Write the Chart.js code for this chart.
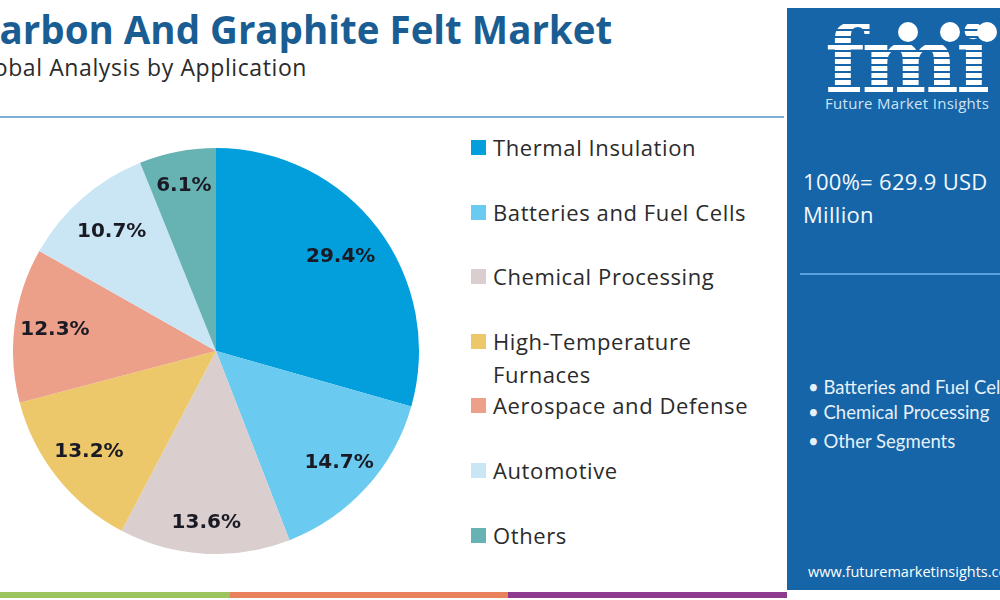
<!DOCTYPE html>
<html>
<head>
<meta charset="utf-8">
<script src="https://cdn.jsdelivr.net/npm/chart.js@4.4.0/dist/chart.umd.min.js"></script>
<style>
  html, body { margin: 0; padding: 0; background: #fff; }
  body { width: 1000px; height: 600px; position: relative; overflow: hidden; font-family: "Open Sans", sans-serif; }
  #title { position: absolute; left: -25px; top: 3px; font: 700 38.5px "Open Sans", sans-serif; color: #1a5d93; white-space: nowrap; }
  #subtitle { position: absolute; left: -30px; top: 51px; font: 400 23px "Open Sans", sans-serif; color: #2b2b2b; white-space: nowrap; letter-spacing: 0.6px; }
  #rule { position: absolute; left: 0; top: 116px; width: 784px; height: 2px; background: #7fb0d8; }
  #pieWrap { position: absolute; left: 13px; top: 148px; width: 406px; height: 406px; }
  #legend { position: absolute; left: 471px; top: 134px; width: 310px; }
  .item { position: relative; height: 64.6px; font: 400 22px "Open Sans", sans-serif; color: #2b2b2b; letter-spacing: 0.6px; }
  .item .sw { position: absolute; left: 0; top: 6px; width: 15px; height: 15px; }
  .item .tx { position: absolute; left: 22px; top: -3px; line-height: 33px; width: 272px; }
  #panel { position: absolute; left: 787px; top: 8px; width: 213px; height: 582px; background: #1565a8; color: #fff; }
  #logo { position: absolute; left: 38px; top: 2px; font: 900 92px "DejaVu Serif", serif; letter-spacing: -3px;
          background: repeating-linear-gradient(#ffffff 0 5px, #1565a8 5px 7px); -webkit-background-clip: text; background-clip: text; color: transparent; line-height: 100px; }
  .dot { position: absolute; width: 20px; height: 20px; border-radius: 50%; background: #fff; top: 14px; }
  #fmiName { position: absolute; left: 38px; top: 85px; font: 400 15px "Open Sans", sans-serif; color: #cfe3f5; white-space: nowrap; letter-spacing: 0.3px; }
  #total { position: absolute; left: 16px; top: 157px; font: 400 22px "Open Sans", sans-serif; line-height: 33px; color: #f2f7fc; white-space: nowrap; letter-spacing: 0.3px; }
  #prule { position: absolute; left: 13px; top: 265px; width: 200px; height: 2px; background: #5aa2dc; }
  #bullets { position: absolute; left: 21px; top: 368px; font: 400 18.5px "Lato", sans-serif; color: #e6f0f9; white-space: nowrap; }
  #bullets div { height: 25px; }
  #url { position: absolute; left: 21px; top: 554px; font: 400 14.5px "Open Sans", sans-serif; color: #fff; white-space: nowrap; }
  .bar { position: absolute; top: 592px; height: 6px; }
</style>
</head>
<body>
<div id="title">Carbon And Graphite Felt Market</div>
<div id="subtitle">Global Analysis by Application</div>
<div id="rule"></div>
<div id="pieWrap"><canvas id="pie"></canvas></div>
<div id="legend"></div>
<div id="panel">
  <div id="logo">fmi</div>
  <div class="dot" style="left:111px"></div>
  <div class="dot" style="left:153px"></div>
  <div class="dot" style="left:190px"></div>
  <div id="fmiName">Future Market Insights</div>
  <div id="total">100%= 629.9 USD<br>Million</div>
  <div id="prule"></div>
  <div id="bullets">
    <div>• Batteries and Fuel Cells</div>
    <div>• Chemical Processing</div>
    <div style="margin-top:4px">• Other Segments</div>
  </div>
  <div id="url">www.futuremarketinsights.com</div>
</div>
<div class="bar" style="left:0;width:230px;background:#9cc55f"></div>
<div class="bar" style="left:230px;width:278px;background:#e9825c"></div>
<div class="bar" style="left:508px;width:279px;background:#8d3b8e"></div>
<script>
// application segments, share of market in %
const segments = ["Thermal Insulation", "Batteries and Fuel Cells", "Chemical Processing",
  "High-Temperature Furnaces", "Aerospace and Defense", "Automotive", "Others"];
const shares = [29.4, 14.7, 13.6, 13.2, 12.3, 10.7, 6.1];
const colors = ["#039fdc", "#6bcaf0", "#dacece", "#ecc86a", "#eca08a", "#cae6f5", "#67b2b3"];

// legend in html, built from the same arrays
const legend = document.getElementById("legend");
segments.forEach((s, i) => {
  const row = document.createElement("div");
  row.className = "item";
  row.innerHTML = `<span class="sw" style="background:${colors[i]}"></span><span class="tx">${s}</span>`;
  legend.appendChild(row);
});

// percent labels inside slices (radius as fraction of outer radius)
const labelRadius = [0.77, 0.82, 0.85, 0.8, 0.8, 0.78, 0.83];
const sliceLabels = {
  id: "sliceLabels",
  afterDatasetsDraw(chart) {
    const ctx = chart.ctx;
    const meta = chart.getDatasetMeta(0);
    ctx.save();
    ctx.font = "bold 20px 'DejaVu Sans', sans-serif";
    ctx.fillStyle = "#1a1a24";
    ctx.textAlign = "center";
    ctx.textBaseline = "middle";
    meta.data.forEach((arc, i) => {
      const p = arc.getProps(["x", "y", "startAngle", "endAngle", "outerRadius"], true);
      const mid = (p.startAngle + p.endAngle) / 2;
      const r = p.outerRadius * labelRadius[i];
      ctx.fillText(shares[i].toFixed(1) + "%", p.x + Math.cos(mid) * r, p.y + Math.sin(mid) * r);
    });
    ctx.restore();
  }
};

new Chart(document.getElementById("pie"), {
  type: "pie",
  data: {
    labels: segments,
    datasets: [{ data: shares, backgroundColor: colors, borderWidth: 0 }]
  },
  options: {
    responsive: true,
    maintainAspectRatio: false,
    animation: false,
    layout: { padding: 0 },
    plugins: { legend: { display: false }, tooltip: { enabled: false } }
  },
  plugins: [sliceLabels]
});
</script>
</body>
</html>
